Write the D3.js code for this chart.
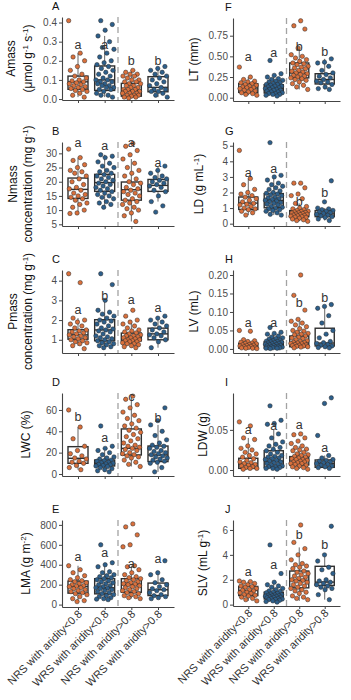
<!DOCTYPE html>
<html lang="en">
<head>
<meta charset="UTF-8">
<title>Leaf traits by aridity group</title>
<script src="https://d3js.org/d3.v7.min.js"></script>
<style>
  body { margin: 0; background: #fff; }
  svg { font-family: "Liberation Sans", Arial, sans-serif; }
  .axis path, .axis line { stroke: #444; }
  .axis text { fill: #4d4d4d; font-size: 10px; }
  .tag { font-size: 11px; fill: #111; }
  .ytitle { font-size: 12px; fill: #111; }
  .sig { font-size: 12.5px; fill: #333; }
  .xlab { font-size: 11px; fill: #333; }
</style>
</head>
<body>
<svg id="chart"></svg>
<script>
const groups = ["NRS with aridity<0.8", "WRS with aridity<0.8", "NRS with aridity>0.8", "WRS with aridity>0.8"];
const groupColors = ["#d9703c", "#2d5f8b", "#d9703c", "#2d5f8b"];

// A - Amass ; box = [lower whisker, q1, median, q3, upper whisker]
const amassPts = [
  [0.41,0.24,0.22,0.20,0.17,0.15,0.13,0.12,0.11,0.10,0.095,0.09,0.085,0.08,0.075,0.07,0.065,0.06,0.055,0.05,0.045,0.04,0.03,0.02,0.01],
  [0.41,0.39,0.36,0.33,0.30,0.27,0.26,0.24,0.22,0.20,0.19,0.18,0.17,0.16,0.15,0.14,0.13,0.12,0.11,0.10,0.10,0.09,0.09,0.08,0.08,0.07,0.07,0.06,0.06,0.05,0.05,0.04,0.03,0.02,0.02,0.01],
  [0.15,0.14,0.13,0.13,0.12,0.12,0.11,0.10,0.10,0.09,0.09,0.08,0.08,0.07,0.07,0.06,0.06,0.05,0.05,0.05,0.04,0.04,0.04,0.03,0.03,0.03,0.02,0.02,0.02,0.015,0.01,0.01,0.005],
  [0.17,0.16,0.15,0.14,0.13,0.12,0.11,0.10,0.09,0.08,0.07,0.06,0.05,0.05,0.04,0.04,0.03,0.02,0.01]
];
const amassBox = [[0.01,0.051,0.09,0.12,0.24],[0.01,0.045,0.10,0.173,0.33],[0.005,0.015,0.045,0.082,0.15],[0.01,0.038,0.061,0.117,0.17]];
const amassSig = ["a","a","b","b"];
const amassSigAt = [0.28,0.28,0.20,0.20];

// B - Nmass
const nmassPts = [
  [31.5,28.5,27.5,26,25,24,23.5,23,22,21,20,19,18,17.5,17,16,15.5,15,14.5,14,13.5,12.5,12,11,10,9,8.8],
  [29.5,29,28.5,27,26.5,25.5,25,24,23.5,23,22.5,22,21.5,21,20.5,20,19.5,19,18.5,18,17.5,17,16.5,16,15.5,15,14.5,14,13,12.5,12,11],
  [33.5,32.5,31,29.5,28,26.5,25,24,23,22,21,20,19.5,19,18,17.5,17,16.5,16,15.5,15,14,13.5,13,12.5,12,11,10.5,10,9,8,6],
  [25.5,24,23,22,21.5,21,20.5,20,19.5,19,18.5,18,17,16.5,15,13,11.5,9.3]
];
const nmassBox = [[8.8,14.1,17.3,21.3,28.5],[11,16.6,19.7,22.6,29.5],[6,13.5,17.2,19.9,28],[13,16.6,18.7,20.8,25.5]];
const nmassSig = ["a","a","a","a"];
const nmassSigAt = [33.8,32.5,33.8,26.7];

// C - Pmass
const pmassPts = [
  [4.35,3.9,2.1,2.0,1.9,1.8,1.7,1.6,1.5,1.45,1.4,1.35,1.3,1.25,1.2,1.15,1.1,1.05,1.0,0.95,0.9,0.85,0.8,0.7,0.55],
  [4.35,3.8,3.0,2.5,2.4,2.3,2.2,2.1,2.0,1.95,1.9,1.8,1.7,1.6,1.55,1.5,1.45,1.4,1.3,1.2,1.15,1.1,1.05,1.0,0.95,0.9,0.85,0.8,0.75,0.7,0.65,0.6],
  [2.5,2.2,2.0,1.9,1.8,1.7,1.6,1.5,1.45,1.4,1.35,1.3,1.25,1.2,1.2,1.15,1.1,1.1,1.05,1.0,1.0,0.95,0.95,0.9,0.9,0.85,0.8,0.8,0.75,0.7,0.65,0.6],
  [2.2,2.1,2.0,1.9,1.8,1.7,1.6,1.5,1.4,1.3,1.25,1.2,1.1,1.0,0.9,0.6]
];
const pmassBox = [[0.7,1.03,1.25,1.51,2.1],[0.6,0.95,1.5,2.02,3.0],[0.6,0.95,1.15,1.34,1.9],[0.6,1.0,1.3,1.59,2.2]];
const pmassSig = ["a","b","a","a"];
const pmassSigAt = [2.53,3.24,3.0,2.6];

// D - LWC
const lwcPts = [
  [60,44,33,26,22,19,17,15,14,12,11,10,8,6,4],
  [45,26,24,22,20,18,16,15,14,13,12.5,12,11,10.5,10,9.5,9,8.5,8,7.5,7,6,5,4,3,2],
  [73,70,65,62,58,55,52,50,47,45,43,41,39,37,35,33,31,29,27,26,25,24,23,22,20,19,18,17,16,15,13,11,9,7],
  [62,50,46,40,36,32,29,27,26,25,24,22,21,20,19,18,17,16,15,14,13,12,11,10,6,2]
];
const lwcBox = [[4,10,14.7,25.6,44],[2,7.5,10,13.1,22],[7,17.8,24,42.2,73],[2,11.6,17.8,26.2,46]];
const lwcSig = ["b","a","c","b"];
const lwcSigAt = [53.7,34,72.5,52];

// E - LMA
const lmaPts = [
  [390,350,320,290,270,250,240,230,220,210,200,190,185,180,170,160,150,140,130,120,110,100,80,60,40,30],
  [600,420,400,380,330,320,300,290,280,270,260,250,240,230,220,210,200,190,180,170,165,160,150,140,130,120,110,100,90,80,70,60,55,50],
  [810,780,700,600,580,390,380,350,320,300,280,270,260,250,240,230,220,210,205,200,190,180,170,160,150,140,130,120,110,100,90,80,70,60],
  [440,320,300,250,220,200,180,160,150,140,120,100,90,80,70,60]
];
const lmaBox = [[30,115,182,236,390],[50,108,169,260,420],[60,124,203,260,390],[60,91,149,216,320]];
const lmaSig = ["a","a","a","a"];
const lmaSigAt = [479,513,412,453];

// F - LT
const ltPts = [
  [0.37,0.25,0.22,0.2,0.19,0.18,0.17,0.16,0.15,0.14,0.13,0.12,0.12,0.11,0.1,0.09,0.08,0.07,0.06,0.05,0.04,0.03],
  [0.45,0.29,0.27,0.25,0.23,0.22,0.21,0.2,0.19,0.18,0.17,0.16,0.16,0.15,0.14,0.14,0.13,0.12,0.12,0.11,0.1,0.1,0.09,0.09,0.08,0.07,0.07,0.06,0.05,0.05,0.04,0.04,0.03,0.02],
  [0.93,0.87,0.83,0.6,0.52,0.5,0.48,0.46,0.44,0.42,0.41,0.4,0.38,0.37,0.36,0.35,0.33,0.32,0.31,0.3,0.29,0.28,0.27,0.26,0.25,0.24,0.23,0.22,0.21,0.19,0.17,0.15,0.13,0.1],
  [0.47,0.43,0.42,0.38,0.33,0.3,0.28,0.26,0.24,0.22,0.2,0.19,0.18,0.16,0.13,0.11,0.1]
];
const ltBox = [[0.03,0.064,0.117,0.17,0.25],[0.02,0.057,0.11,0.157,0.29],[0.1,0.24,0.30,0.42,0.6],[0.1,0.166,0.22,0.29,0.47]];
const ltSig = ["a","a","b","b"];
const ltSigAt = [0.49,0.54,0.61,0.55];

// G - LD
const ldPts = [
  [4.7,2.9,2.5,2.2,2.0,1.9,1.8,1.7,1.6,1.5,1.4,1.3,1.25,1.2,1.1,1.0,0.95,0.9,0.8,0.7,0.55],
  [5.2,3.1,3.0,2.8,2.6,2.5,2.4,2.3,2.2,2.1,2.0,1.95,1.9,1.85,1.8,1.7,1.65,1.6,1.55,1.5,1.45,1.4,1.35,1.3,1.25,1.2,1.1,1.05,1.0,0.95,0.9,0.85,0.8,0.7,0.6,0.55],
  [2.6,2.6,2.3,1.9,1.8,1.6,1.3,1.1,1.0,0.95,0.9,0.85,0.8,0.78,0.75,0.72,0.7,0.68,0.65,0.62,0.6,0.58,0.55,0.52,0.5,0.48,0.45,0.42,0.4,0.35,0.3,0.25,0.2,0.15],
  [2.75,1.4,1.0,0.95,0.9,0.85,0.8,0.75,0.7,0.65,0.6,0.55,0.5,0.45,0.4,0.3,0.2]
];
const ldBox = [[0.55,0.91,1.32,1.71,2.9],[0.55,1.02,1.49,1.93,3.1],[0.15,0.45,0.63,0.84,1.3],[0.2,0.45,0.63,0.84,1.0]];
const ldSig = ["a","a","b","b"];
const ldSigAt = [3.27,3.49,1.38,1.97];

// H - LV
const lvPts = [
  [0.05,0.048,0.025,0.022,0.02,0.018,0.016,0.015,0.014,0.012,0.011,0.01,0.009,0.008,0.007,0.006,0.005,0.004,0.003,0.002,0.002,0.001],
  [0.058,0.045,0.042,0.04,0.035,0.032,0.03,0.028,0.026,0.024,0.022,0.021,0.02,0.019,0.018,0.017,0.016,0.015,0.014,0.013,0.012,0.011,0.01,0.009,0.008,0.007,0.006,0.005,0.005,0.004,0.003,0.003,0.002,0.002,0.001],
  [0.2,0.145,0.105,0.08,0.075,0.07,0.065,0.06,0.055,0.05,0.048,0.045,0.042,0.04,0.038,0.035,0.032,0.03,0.028,0.025,0.022,0.02,0.018,0.017,0.016,0.015,0.014,0.012,0.011,0.01,0.009,0.008,0.007,0.006,0.005,0.003],
  [0.12,0.115,0.11,0.09,0.07,0.05,0.04,0.03,0.02,0.017,0.015,0.012,0.01,0.008,0.006,0.004,0.003]
];
const lvBox = [[0.001,0.002,0.008,0.015,0.025],[0.001,0.003,0.011,0.02,0.04],[0.003,0.006,0.017,0.035,0.08],[0.003,0.008,0.016,0.056,0.11]];
const lvSig = ["a","a","b","b"];
const lvSigAt = [0.071,0.071,0.124,0.137];

// I - LDW
const ldwPts = [
  [0.06,0.055,0.04,0.038,0.03,0.027,0.025,0.022,0.02,0.018,0.016,0.014,0.012,0.01,0.009,0.008,0.007,0.006,0.005,0.004,0.003,0.002,0.002,0.001],
  [0.08,0.062,0.058,0.057,0.045,0.04,0.035,0.032,0.03,0.028,0.026,0.024,0.022,0.02,0.018,0.017,0.016,0.015,0.014,0.013,0.012,0.011,0.01,0.009,0.008,0.007,0.006,0.005,0.004,0.004,0.003,0.002,0.002,0.001],
  [0.045,0.044,0.04,0.036,0.033,0.03,0.028,0.026,0.025,0.024,0.022,0.02,0.019,0.018,0.017,0.016,0.015,0.014,0.013,0.013,0.012,0.011,0.01,0.01,0.009,0.008,0.008,0.007,0.006,0.005,0.004,0.003,0.002,0.001],
  [0.09,0.083,0.043,0.018,0.015,0.013,0.012,0.011,0.01,0.009,0.008,0.007,0.006,0.005,0.004,0.003,0.002]
];
const ldwBox = [[0.001,0.002,0.0075,0.0146,0.04],[0.001,0.0033,0.011,0.024,0.05],[0.001,0.0063,0.0133,0.0167,0.03],[0.001,0.0033,0.0083,0.0125,0.018]];
const ldwSig = ["a","a","a","a"];
const ldwSigAt = [0.05,0.055,0.056,0.027];

// J - SLV
const slvPts = [
  [1.9,1.85,1.8,1.7,1.6,1.5,1.45,1.4,1.3,1.2,1.15,1.1,1.0,0.95,0.9,0.8,0.75,0.7,0.6,0.5,0.4,0.3],
  [4.8,2.5,1.8,1.6,1.5,1.4,1.3,1.2,1.1,1.05,1.0,0.95,0.9,0.85,0.8,0.78,0.75,0.72,0.7,0.68,0.65,0.62,0.6,0.58,0.55,0.5,0.48,0.45,0.42,0.4,0.35,0.3,0.25,0.2],
  [6.4,5.0,4.5,4.0,3.6,3.3,3.2,3.1,3.0,2.9,2.7,2.6,2.5,2.4,2.3,2.2,2.1,2.0,1.95,1.9,1.8,1.7,1.6,1.5,1.4,1.3,1.2,1.1,1.0,0.9,0.7,0.6,0.5,0.4],
  [6.3,4.0,3.5,3.0,2.8,2.5,2.0,1.9,1.8,1.7,1.6,1.5,1.4,1.3,1.2,0.8,0.4]
];
const slvBox = [[0.3,0.73,1.14,1.46,1.9],[0.2,0.46,0.73,1.0,1.8],[0.3,1.35,1.95,2.7,4.6],[0.4,1.54,1.81,3.08,4.0]];
const slvSig = ["a","a","b","b"];
const slvSigAt = [2.62,3.16,5.6,4.78];

// y-axis titles: strings, {sup} for superscripts
const panels = [
  {tag:"A", title:[["Amass"],["(\u03bcmol g",{sup:"-1"}," s",{sup:"-1"},")"]], titleX:[15,32], pts:amassPts, box:amassBox, sig:amassSig, sigAt:amassSigAt, ticks:[0,0.1,0.2,0.3,0.4], fmt:".1f", col:0, top:17, bottom:100, domain:[-0.005,0.429]},
  {tag:"B", title:[["Nmass"],["concentration (mg g",{sup:"-1"},")"]], titleX:[17,32], pts:nmassPts, box:nmassBox, sig:nmassSig, sigAt:nmassSigAt, ticks:[5,10,15,20,25,30], fmt:"d", col:0, top:142, bottom:226, domain:[4.4,34.0]},
  {tag:"C", title:[["Pmass"],["concentration (mg g",{sup:"-1"},")"]], titleX:[17,32], pts:pmassPts, box:pmassBox, sig:pmassSig, sigAt:pmassSigAt, ticks:[1,2,3,4], fmt:"d", col:0, top:270, bottom:353, domain:[0.33,4.54]},
  {tag:"D", title:[["LWC (%)"]], titleX:[30], pts:lwcPts, box:lwcBox, sig:lwcSig, sigAt:lwcSigAt, ticks:[0,20,40,60], fmt:"d", col:0, top:393, bottom:476, domain:[-1.9,75.9]},
  {tag:"E", title:[["LMA (g m",{sup:"-2"},")"]], titleX:[30], pts:lmaPts, box:lmaBox, sig:lmaSig, sigAt:lmaSigAt, ticks:[0,200,400,600,800], fmt:"d", col:0, top:520, bottom:607, domain:[-24,849], xlabels:true},
  {tag:"F", title:[["LT (mm)"]], titleX:[198], pts:ltPts, box:ltBox, sig:ltSig, sigAt:ltSigAt, ticks:[0,0.25,0.5,0.75], fmt:".2f", col:1, top:18, bottom:101, domain:[-0.04,0.964]},
  {tag:"G", title:[["LD (g mL",{sup:"-1"},")"]], titleX:[203], pts:ldPts, box:ldBox, sig:ldSig, sigAt:ldSigAt, ticks:[0,1,2,3,4,5], fmt:"d", col:1, top:142, bottom:226, domain:[-0.15,5.24]},
  {tag:"H", title:[["LV (mL)"]], titleX:[198], pts:lvPts, box:lvBox, sig:lvSig, sigAt:lvSigAt, ticks:[0,0.05,0.1,0.15,0.2], fmt:".2f", col:1, top:270, bottom:353, domain:[-0.011,0.2135]},
  {tag:"I", title:[["LDW (g)"]], titleX:[207], pts:ldwPts, box:ldwBox, sig:ldwSig, sigAt:ldwSigAt, ticks:[0,0.05], fmt:".2f", col:1, top:393, bottom:476, domain:[-0.0075,0.096]},
  {tag:"J", title:[["SLV (mL g",{sup:"-1"},")"]], titleX:[207], pts:slvPts, box:slvBox, sig:slvSig, sigAt:slvSigAt, ticks:[0,2,4,6], fmt:"d", col:1, top:520, bottom:606, domain:[-0.11,6.8], xlabels:true}
];

const colRange = [[62,174],[233,340]];

const svg = d3.select("#chart")
  .attr("width", 351)
  .attr("height", 700);

function richText(sel, parts) {
  let raised = false;
  parts.forEach(p => {
    if (typeof p === "string") {
      sel.append("tspan").attr("dy", raised ? 4 : 0).text(p);
      raised = false;
    } else {
      sel.append("tspan").attr("dy", -4).style("font-size", "8px").text(p.sup);
      raised = true;
    }
  });
}

panels.forEach(p => {
  const x = d3.scalePoint().domain(groups).range(colRange[p.col]).padding(0.6);
  const y = d3.scaleLinear().domain(p.domain).range([p.bottom, p.top]);
  const step = x.step();
  const g = svg.append("g");

  // dashed divider between aridity classes
  const sepX = (x(groups[1]) + x(groups[2])) / 2;
  g.append("line")
    .attr("x1", sepX).attr("x2", sepX)
    .attr("y1", p.top).attr("y2", p.bottom)
    .attr("stroke", "#a3a3a3")
    .attr("stroke-width", 1.3)
    .attr("stroke-dasharray", "6,4");

  // axes
  g.append("g")
    .attr("class", "axis")
    .attr("transform", `translate(${colRange[p.col][0]},0)`)
    .call(d3.axisLeft(y).tickValues(p.ticks).tickFormat(d3.format(p.fmt)).tickSize(3).tickSizeOuter(0).tickPadding(2))
    .call(a => a.select(".domain").attr("stroke-width", 1.1));

  g.append("g")
    .attr("class", "axis")
    .attr("transform", `translate(0,${p.bottom})`)
    .call(d3.axisBottom(x).tickFormat("").tickSize(3).tickSizeOuter(0))
    .call(a => a.select(".domain").attr("stroke-width", 1.1));

  // boxes
  const bw = step * 0.75;
  p.box.forEach((b, i) => {
    const cx = x(groups[i]);
    g.append("line")
      .attr("x1", cx).attr("x2", cx)
      .attr("y1", y(b[0])).attr("y2", y(b[1]))
      .attr("stroke", "#666").attr("stroke-width", 1);
    g.append("line")
      .attr("x1", cx).attr("x2", cx)
      .attr("y1", y(b[3])).attr("y2", y(b[4]))
      .attr("stroke", "#666").attr("stroke-width", 1);
    g.append("rect")
      .attr("x", cx - bw / 2).attr("width", bw)
      .attr("y", y(b[3])).attr("height", y(b[1]) - y(b[3]))
      .attr("fill", "none")
      .attr("stroke", "#2f2f2f").attr("stroke-width", 1.4);
    g.append("line")
      .attr("x1", cx - bw / 2).attr("x2", cx + bw / 2)
      .attr("y1", y(b[2])).attr("y2", y(b[2]))
      .attr("stroke", "#2f2f2f").attr("stroke-width", 1.4);
  });

  // jittered points
  p.pts.forEach((vals, i) => {
    const cx = x(groups[i]);
    g.append("g").selectAll("circle")
      .data(vals)
      .join("circle")
      .attr("cx", (d, j) => cx + (((j * 0.618034 + i * 0.29) % 1) - 0.5) * 0.7 * step)
      .attr("cy", d => y(d))
      .attr("r", 2.2)
      .attr("fill", groupColors[i])
      .attr("stroke", "#2a2a2a")
      .attr("stroke-width", 0.5);
  });

  // significance letters
  p.sig.forEach((s, i) => {
    g.append("text")
      .attr("class", "sig")
      .attr("x", x(groups[i]))
      .attr("y", y(p.sigAt[i]) + 4)
      .attr("text-anchor", "middle")
      .text(s);
  });

  // panel tag
  g.append("text")
    .attr("class", "tag")
    .attr("x", p.col === 0 ? 52 : 225)
    .attr("y", p.top - 7)
    .text(p.tag);

  // y title
  const cy = (p.top + p.bottom) / 2;
  p.title.forEach((line, k) => {
    const t = g.append("text")
      .attr("class", "ytitle")
      .attr("transform", `translate(${p.titleX[k]},${cy}) rotate(-90)`)
      .attr("text-anchor", "middle")
      .attr("dy", "0.35em");
    richText(t, line);
  });

  // rotated group labels on bottom panels
  if (p.xlabels) {
    groups.forEach(gr => {
      g.append("text")
        .attr("class", "xlab")
        .attr("transform", `translate(${x(gr) + 2},${p.bottom + 5}) rotate(-45)`)
        .attr("text-anchor", "end")
        .attr("dy", "0.35em")
        .text(gr);
    });
  }
});
</script>
</body>
</html>
